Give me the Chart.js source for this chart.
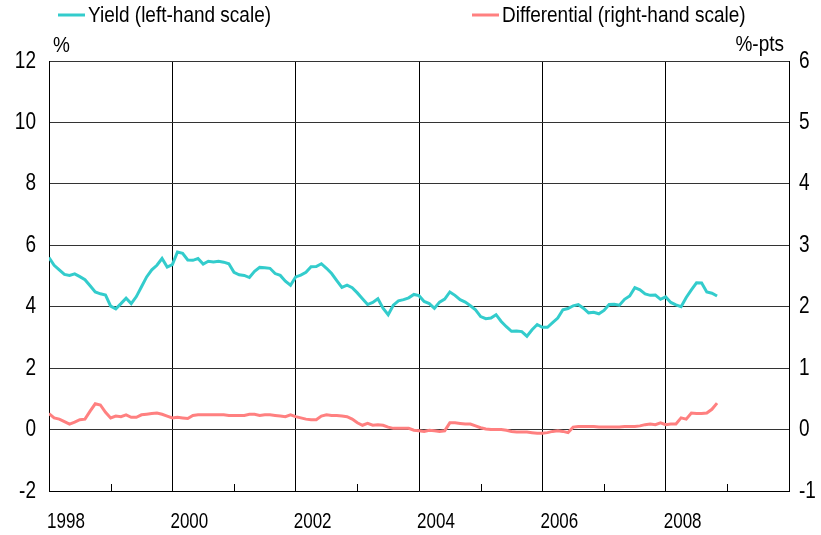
<!DOCTYPE html>
<html>
<head>
<meta charset="utf-8">
<script src="https://cdn.jsdelivr.net/npm/chart.js@4"></script>
<style>
  html, body { margin: 0; padding: 0; background: #fff; }
  #wrap { width: 821px; height: 535px; position: relative; }
</style>
</head>
<body>
<div id="wrap"><canvas id="myChart" width="821" height="535"></canvas></div>
<script>
// monthly data, Jan 1998 .. Nov 2008
const startYear = 1998;
const yieldPct = [
  5.6, 5.35, 5.2, 5.05, 5.02, 5.07, 4.98, 4.88, 4.68, 4.48, 4.42, 4.38,
  4.02, 3.93, 4.1, 4.28, 4.1, 4.33, 4.65, 4.97, 5.2, 5.35, 5.57, 5.29,
  5.37, 5.78, 5.74, 5.52, 5.51, 5.57, 5.39, 5.48, 5.46, 5.48, 5.45, 5.40,
  5.12, 5.04, 5.02, 4.95, 5.15, 5.28, 5.27, 5.25, 5.08, 5.02, 4.83, 4.70,
  4.97, 5.03, 5.12, 5.30, 5.31, 5.40, 5.25, 5.08, 4.85, 4.63, 4.70, 4.62,
  4.45, 4.26, 4.07, 4.14, 4.26, 3.95, 3.74, 4.05, 4.19, 4.23, 4.29, 4.40,
  4.36, 4.17, 4.10, 3.95, 4.15, 4.25, 4.48, 4.37, 4.23, 4.15, 4.03, 3.90,
  3.68, 3.61, 3.63, 3.74, 3.52, 3.35, 3.20, 3.21, 3.19, 3.04, 3.25, 3.42,
  3.33, 3.33, 3.48, 3.63, 3.90, 3.94, 4.03, 4.07, 3.95, 3.80, 3.82, 3.77,
  3.88, 4.07, 4.08, 4.05, 4.24, 4.35, 4.62, 4.55, 4.42, 4.37, 4.38, 4.24,
  4.32, 4.14, 4.06, 4.00, 4.30, 4.55, 4.78, 4.77, 4.48, 4.44, 4.35
];
const diffPts = [
  0.26, 0.19, 0.17, 0.13, 0.09, 0.12, 0.16, 0.17, 0.30, 0.42, 0.40, 0.28,
  0.19, 0.22, 0.21, 0.24, 0.20, 0.20, 0.24, 0.25, 0.26, 0.27, 0.25, 0.22,
  0.19, 0.20, 0.19, 0.18, 0.23, 0.24, 0.24, 0.24, 0.24, 0.24, 0.24, 0.23,
  0.23, 0.23, 0.23, 0.25, 0.25, 0.23, 0.24, 0.24, 0.23, 0.22, 0.21, 0.24,
  0.21, 0.19, 0.17, 0.16, 0.16, 0.22, 0.24, 0.23, 0.23, 0.22, 0.21, 0.17,
  0.11, 0.07, 0.10, 0.07, 0.08, 0.07, 0.04, 0.02, 0.02, 0.02, 0.02, -0.01,
  -0.02, -0.03, -0.01, -0.02, -0.03, -0.02, 0.11, 0.11, 0.10, 0.09, 0.09, 0.06,
  0.03, 0.01, 0.00, 0.00, 0.00, -0.01, -0.03, -0.04, -0.04, -0.04, -0.05, -0.06,
  -0.06, -0.05, -0.03, -0.02, -0.03, -0.05, 0.04, 0.05, 0.05, 0.05, 0.05, 0.04,
  0.04, 0.04, 0.04, 0.04, 0.05, 0.05, 0.05, 0.06, 0.08, 0.09, 0.08, 0.11,
  0.08, 0.09, 0.09, 0.19, 0.17, 0.27, 0.26, 0.26, 0.27, 0.33, 0.43
];
const yearLabels = [1998, 2000, 2002, 2004, 2006, 2008];
const seriesNames = ["Yield (left-hand scale)", "Differential (right-hand scale)"];
const seriesColors = ["#33cccc", "#ff8080"];

const FONT = "'Liberation Sans', Arial, sans-serif";

function toPoints(vals) {
  return vals.map((v, i) => ({ x: startYear + i / 12, y: v }));
}

// text a bit taller than wide, like the original
function tallText(ctx, text, x, y, align, size, sy) {
  ctx.save();
  ctx.translate(x, y);
  ctx.scale(1, sy);
  ctx.font = size + "px " + FONT;
  ctx.fillStyle = "#000";
  ctx.textAlign = align;
  ctx.textBaseline = "middle";
  ctx.fillText(text, 0, 0);
  ctx.restore();
}

// legend, unit labels, tick labels and minor ticks
const extras = {
  id: "extras",
  afterDraw(chart) {
    const ctx = chart.ctx;
    const xs = chart.scales.x, ys = chart.scales.y, ys2 = chart.scales.y2;
    const area = chart.chartArea;
    ctx.save();
    // minor ticks at odd years
    ctx.strokeStyle = "#000";
    ctx.lineWidth = 1;
    for (let yr = 1999; yr < 2010; yr += 2) {
      const px = Math.round(xs.getPixelForValue(yr)) + 0.5;
      ctx.beginPath();
      ctx.moveTo(px, area.bottom);
      ctx.lineTo(px, area.bottom - 7);
      ctx.stroke();
    }
    // tick labels
    ys.ticks.forEach(t => tallText(ctx, String(t.value), area.left - 13, ys.getPixelForValue(t.value), "right", 19, 1.25));
    ys2.ticks.forEach(t => tallText(ctx, String(t.value), area.right + 10, ys2.getPixelForValue(t.value), "left", 19, 1.25));
    yearLabels.forEach(yr => tallText(ctx, String(yr), xs.getPixelForValue(yr) + 17, area.bottom + 31, "center", 17, 1.35));
    // legend
    const legendX = [58, 472];
    chart.data.datasets.forEach((ds, i) => {
      ctx.strokeStyle = ds.borderColor;
      ctx.lineWidth = 3;
      ctx.beginPath();
      ctx.moveTo(legendX[i], 15);
      ctx.lineTo(legendX[i] + 27, 15);
      ctx.stroke();
      tallText(ctx, ds.label, legendX[i] + 30, 16, "left", 19, 1.2);
    });
    // units
    tallText(ctx, "%", 53, 46, "left", 19, 1.2);
    tallText(ctx, "%-pts", 784, 45, "right", 19, 1.2);
    ctx.restore();
  }
};

new Chart(document.getElementById("myChart").getContext("2d"), {
  type: "line",
  data: {
    datasets: [
      {
        label: seriesNames[0],
        data: toPoints(yieldPct),
        borderColor: seriesColors[0],
        borderWidth: 3,
        pointRadius: 0,
        tension: 0,
        yAxisID: "y"
      },
      {
        label: seriesNames[1],
        data: toPoints(diffPts),
        borderColor: seriesColors[1],
        borderWidth: 3,
        pointRadius: 0,
        tension: 0,
        yAxisID: "y2"
      }
    ]
  },
  options: {
    responsive: false,
    animation: false,
    layout: { padding: { top: 61, left: 0, right: 0, bottom: 0 } },
    plugins: {
      legend: { display: false },
      tooltip: { enabled: false }
    },
    scales: {
      x: {
        type: "linear",
        min: 1998,
        max: 2010,
        afterFit: s => { s.height = 44; },
        ticks: { stepSize: 1, autoSkip: false, display: false },
        grid: {
          drawTicks: false,
          color: c => (c.tick && c.tick.value % 2 === 0 && c.tick.value > 1998 && c.tick.value < 2010) ? "#000" : "rgba(0,0,0,0)",
          lineWidth: 1
        },
        border: { display: true, color: "#000", width: 1 }
      },
      y: {
        position: "left",
        min: -2,
        max: 12,
        afterFit: s => { s.width = 49; },
        ticks: { stepSize: 2, display: false },
        grid: { drawTicks: false, color: "#333", lineWidth: 1 },
        border: { display: true, color: "#000", width: 1 }
      },
      y2: {
        position: "right",
        min: -1,
        max: 6,
        afterFit: s => { s.width = 32; },
        ticks: { stepSize: 1, display: false },
        grid: { drawOnChartArea: false, drawTicks: false },
        border: { display: true, color: "#000", width: 1 }
      }
    }
  },
  plugins: [extras]
});
</script>
</body>
</html>
